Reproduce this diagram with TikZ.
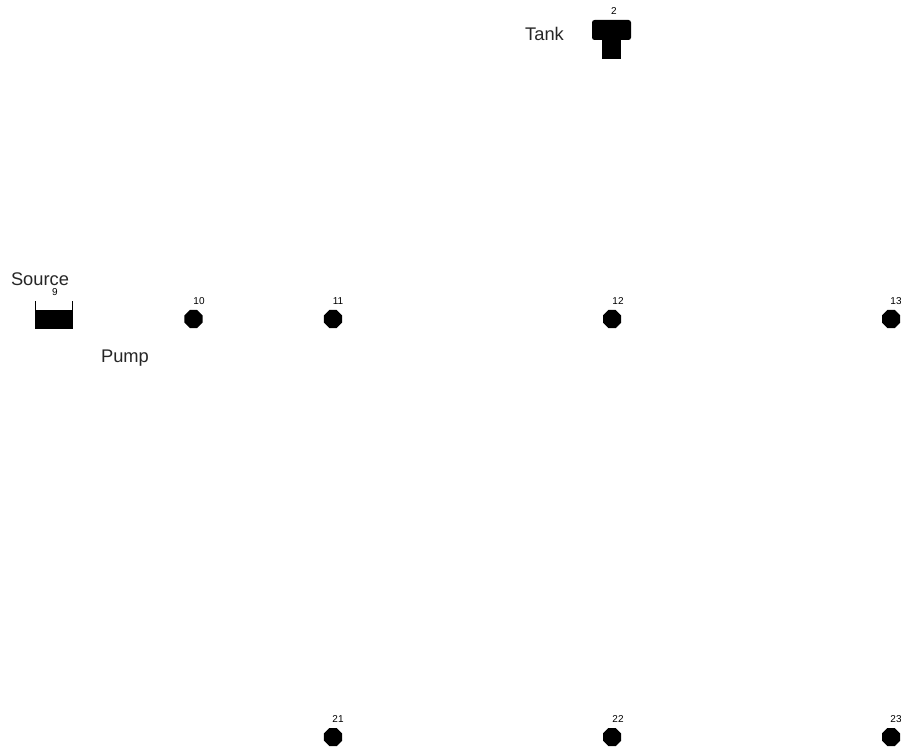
\documentclass[tikz,border=0pt]{standalone}
\usepackage{fontspec}
\setmainfont{Liberation Sans}
\usetikzlibrary{positioning,shapes.geometric}
\tikzset{
  juncnode/.style={regular polygon,regular polygon sides=8,fill=black,draw=none,
    minimum size=19.5pt,inner sep=0pt},
  numlabel/.style={font=\fontsize{10}{10}\selectfont,inner sep=0pt,text=black},
  namelabel/.style={font=\fontsize{18.3}{19}\selectfont,inner sep=0pt,text=black!85},
  solidpart/.style={fill=black,draw=none},
  wallline/.style={draw=black,line width=1pt},
}
\begin{document}
\begin{tikzpicture}[x=1pt,y=-1pt]
\useasboundingbox (0,0) rectangle (901,749);
% junctions
\node[juncnode] (j10) at (193.5,319) {};
\node[juncnode] (j11) at (333,319) {};
\node[juncnode] (j12) at (612,319) {};
\node[juncnode] (j13) at (891,319) {};
\node[juncnode] (j21) at (333,737) {};
\node[juncnode] (j22) at (612,737) {};
\node[juncnode] (j23) at (891,737) {};
\node[numlabel] (n10) at (199,301) {10};
\node[numlabel] (n11) at (338,301) {11};
\node[numlabel] (n12) at (618,301) {12};
\node[numlabel] (n13) at (896,301) {13};
\node[numlabel] (n21) at (338,719) {21};
\node[numlabel] (n22) at (618,719) {22};
\node[numlabel] (n23) at (896,719) {23};
% tank
\fill[solidpart,rounded corners=2.5pt] (592,20) rectangle (631,40);
\fill[solidpart] (602,38) rectangle (621,59);
\node[numlabel] (n2) at (614,11) {2};
\node[namelabel] (tank) at (544.5,34) {Tank};
% source
\fill[solidpart] (35,310) rectangle (73,329);
\draw[wallline] (35.5,301) -- (35.5,311);
\draw[wallline] (72.5,301) -- (72.5,311);
\node[numlabel] (n9) at (55,292) {9};
\node[namelabel] (source) at (40,279.5) {Source};
\node[namelabel] (pump) at (125,358) {Pump};
\end{tikzpicture}
\end{document}
